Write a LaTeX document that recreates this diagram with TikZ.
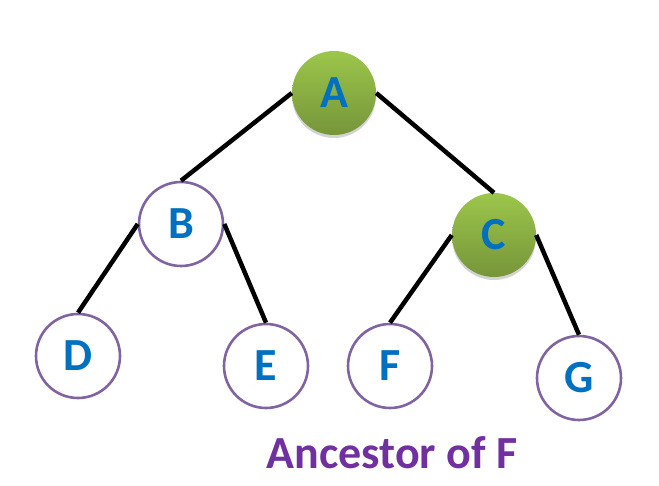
\documentclass[tikz,border=0pt]{standalone}
\usepackage{fontspec}
\setmainfont{Carlito}
\usetikzlibrary{shadows}
\definecolor{nodeblue}{HTML}{0070C0}
\definecolor{ringpurple}{HTML}{8064A2}
\definecolor{captionpurple}{HTML}{7030A0}
\definecolor{greentop}{HTML}{9CC64B}
\definecolor{greenbot}{HTML}{76953A}
\begin{document}
\begin{tikzpicture}[x=1pt,y=-1pt,
  plain/.style={circle,draw=ringpurple,line width=2.6pt,fill=white,minimum size=84pt,inner sep=0pt,
    font=\fontsize{46}{46}\selectfont\bfseries,text=nodeblue},
  anc/.style={circle,minimum size=84pt,inner sep=0pt,top color=greentop,bottom color=greenbot,
    drop shadow={opacity=0.35,shadow xshift=0pt,shadow yshift=-3pt},
    font=\fontsize{46}{46}\selectfont\bfseries,text=nodeblue},
  edge/.style={line width=4.5pt,black}]
\useasboundingbox (0,0) rectangle (659,486);
\node[anc] (A) at (334,93) {A};
\node[plain] (B) at (181,224) {B};
\node[anc] (C) at (494,235) {C};
\node[plain] (D) at (78,356) {D};
\node[plain] (E) at (266,366) {E};
\node[plain] (F) at (390,366) {F};
\node[plain] (G) at (579,378) {G};
\draw[edge] (A.west) -- (B.north);
\draw[edge] (A.east) -- (C.north);
\draw[edge] (B.west) -- (D.north);
\draw[edge] (B.east) -- (E.north);
\draw[edge] (C.west) -- (F.north);
\draw[edge] (C.east) -- (G.north);
\node[font=\fontsize{46}{46}\selectfont\bfseries,text=captionpurple,anchor=base] (cap) at (392,468) {Ancestor of F};
\end{tikzpicture}
\end{document}
